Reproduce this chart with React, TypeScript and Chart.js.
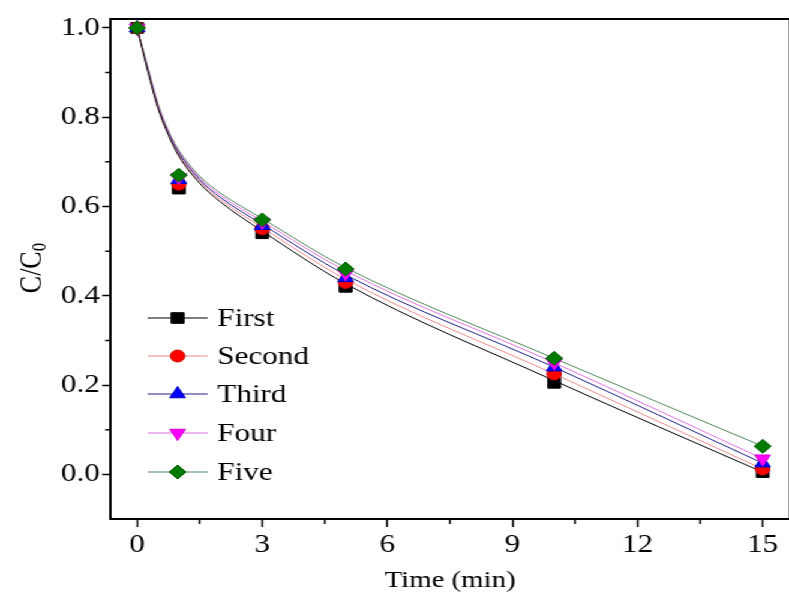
import React, { useEffect, useRef } from 'react';
import { Chart, registerables } from 'chart.js';

Chart.register(...registerables);

// The reference figure is horizontally stretched (~1.2x); reproduce that with a CSS scaleX.
const STRETCH = 1.2;
const CANVAS_W = 667;
const CANVAS_H = 600;
const FONT = "'Liberation Serif', 'Times New Roman', serif";

const seriesNames = ['First', 'Second', 'Third', 'Four', 'Five'];

const timePoints = [0, 1, 3, 5, 10, 15];
const firstPoints = [1.0, 0.64, 0.54, 0.42, 0.205, 0.005];
const secondPoints = [1.0, 0.65, 0.55, 0.43, 0.225, 0.012];
const thirdPoints = [1.0, 0.66, 0.557, 0.44, 0.24, 0.025];
const fourPoints = [1.0, 0.665, 0.565, 0.45, 0.25, 0.035];
const fivePoints = [1.0, 0.67, 0.57, 0.46, 0.26, 0.063];

const fitTimes = [0, 0.25, 0.5, 0.75, 1, 1.5, 2, 3, 5, 10, 15];
const firstFit = [1.0, 0.905, 0.82, 0.76, 0.713, 0.652, 0.61, 0.545, 0.427, 0.21, 0.005];
const secondFit = [1.0, 0.907, 0.822, 0.762, 0.716, 0.656, 0.615, 0.553, 0.437, 0.225, 0.012];
const thirdFit = [1.0, 0.91, 0.825, 0.765, 0.72, 0.66, 0.62, 0.56, 0.447, 0.24, 0.025];
const fourFit = [1.0, 0.912, 0.828, 0.768, 0.723, 0.664, 0.625, 0.567, 0.456, 0.25, 0.035];
const fiveFit = [1.0, 0.914, 0.83, 0.77, 0.726, 0.668, 0.63, 0.573, 0.463, 0.26, 0.063];

const xTicks = [0, 3, 6, 9, 12, 15];
const yTicks = [0, 0.2, 0.4, 0.6, 0.8, 1.0];
const xMinorTicks = [1.5, 4.5, 7.5, 10.5, 13.5];
const yMinorTicks = [0.1, 0.3, 0.5, 0.7, 0.9];

const allPoints = [firstPoints, secondPoints, thirdPoints, fourPoints, fivePoints];
const allFits = [firstFit, secondFit, thirdFit, fourFit, fiveFit];

const markerColors = ['#000000', '#ff0000', '#0000ff', '#ff00ff', '#007a00'];
const markerBorders = ['#000000', '#d00000', '#0000c0', '#d000d0', '#005a00'];
const lineColors = ['#000000', '#f08a8a', '#20208a', '#e070e0', '#4f8a5a'];
const pointStyles = ['rect', 'circle', 'triangle', 'triangle', 'rectRot'];
const pointRotations = [0, 0, 0, 180, 0];
const pointRadii = [7.5, 6, 7.5, 7.5, 7];

function drawMarker(ctx: CanvasRenderingContext2D, i: number, x: number, y: number) {
  const r = pointRadii[i];
  ctx.save();
  ctx.fillStyle = markerColors[i];
  ctx.strokeStyle = markerBorders[i];
  ctx.lineWidth = 1;
  ctx.beginPath();
  const style = pointStyles[i];
  if (style === 'rect') {
    const s = Math.SQRT1_2 * r;
    ctx.rect(x - s, y - s, 2 * s, 2 * s);
  } else if (style === 'circle') {
    ctx.arc(x, y, r, 0, Math.PI * 2);
  } else if (style === 'triangle') {
    const rot = (pointRotations[i] * Math.PI) / 180;
    for (let k = 0; k < 3; k++) {
      const a = rot + (k * 2 * Math.PI) / 3;
      const px = x + Math.sin(a) * r;
      const py = y - Math.cos(a) * r;
      if (k === 0) ctx.moveTo(px, py);
      else ctx.lineTo(px, py);
    }
    ctx.closePath();
  } else {
    ctx.moveTo(x, y - r);
    ctx.lineTo(x + r, y);
    ctx.lineTo(x, y + r);
    ctx.lineTo(x - r, y);
    ctx.closePath();
  }
  ctx.fill();
  ctx.stroke();
  ctx.restore();
}

export default function App() {
  const canvasRef = useRef<HTMLCanvasElement | null>(null);

  useEffect(() => {
    document.documentElement.style.overflow = 'hidden';
    document.body.style.overflow = 'hidden';
    const canvas = canvasRef.current;
    if (!canvas) return;

    const fitDatasets = allFits.map((fit, i) => ({
      label: seriesNames[i] + ' fit',
      data: fitTimes.map((t, k) => ({ x: t, y: fit[k] })),
      showLine: true,
      borderColor: lineColors[i],
      borderWidth: 1,
      pointRadius: 0,
      cubicInterpolationMode: 'monotone' as const,
      order: 20 + i,
    }));

    const pointDatasets = allPoints.map((vals, i) => ({
      label: seriesNames[i],
      data: timePoints.map((t, k) => ({ x: t, y: vals[k] })),
      showLine: false,
      pointStyle: pointStyles[i] as any,
      pointRotation: pointRotations[i],
      pointRadius: pointRadii[i],
      backgroundColor: markerColors[i],
      borderColor: markerBorders[i],
      borderWidth: 1,
      order: 10 - i,
    }));

    const framePlugin = {
      id: 'frameAndExtras',
      afterDraw(chart: any) {
        const { ctx, chartArea, scales } = chart;
        const xs = scales.x;
        const ys = scales.y;
        ctx.save();
        ctx.strokeStyle = '#000';
        ctx.lineWidth = 2;
        ctx.beginPath();
        ctx.moveTo(chartArea.left, chartArea.top);
        ctx.lineTo(chartArea.right, chartArea.top);
        ctx.lineTo(chartArea.right, chartArea.bottom);
        ctx.stroke();
        // minor ticks
        ctx.lineWidth = 1.5;
        ctx.beginPath();
        xMinorTicks.forEach((v) => {
          const px = xs.getPixelForValue(v);
          ctx.moveTo(px, chartArea.bottom);
          ctx.lineTo(px, chartArea.bottom + 5);
        });
        yMinorTicks.forEach((v) => {
          const py = ys.getPixelForValue(v);
          ctx.moveTo(chartArea.left, py);
          ctx.lineTo(chartArea.left - 4, py);
        });
        ctx.stroke();
        // y-axis title with subscript
        ctx.translate(25, 268);
        ctx.rotate(-Math.PI / 2);
        ctx.fillStyle = '#000';
        ctx.textBaseline = 'alphabetic';
        ctx.font = `26px ${FONT}`;
        const main = 'C/C';
        const w1 = ctx.measureText(main).width;
        ctx.font = `17px ${FONT}`;
        const w2 = ctx.measureText('0').width;
        const start = -(w1 + w2) / 2;
        ctx.font = `26px ${FONT}`;
        ctx.fillText(main, start, 9);
        ctx.font = `17px ${FONT}`;
        ctx.fillText('0', start + w1, 13);
        ctx.restore();

        // legend
        const rows = [318, 356, 394, 433, 472];
        ctx.save();
        rows.forEach((ry, i) => {
          ctx.strokeStyle = lineColors[i];
          ctx.lineWidth = 1.2;
          ctx.beginPath();
          ctx.moveTo(123, ry);
          ctx.lineTo(173, ry);
          ctx.stroke();
          drawMarker(ctx, i, 148, ry);
          ctx.fillStyle = '#000';
          ctx.font = `26px ${FONT}`;
          ctx.textBaseline = 'middle';
          ctx.textAlign = 'left';
          ctx.fillText(seriesNames[i], 181, ry + 1);
        });
        ctx.restore();
      },
    };

    const chart = new Chart(canvas, {
      type: 'scatter',
      data: { datasets: [...pointDatasets, ...fitDatasets] as any },
      options: {
        animation: false,
        responsive: false,
        maintainAspectRatio: false,
        layout: { padding: { top: 19, right: 4.5, left: 0, bottom: 0 } },
        plugins: {
          legend: { display: false },
          tooltip: { enabled: false },
        },
        scales: {
          x: {
            type: 'linear',
            min: -0.65,
            max: 15.66,
            afterBuildTicks: (scale: any) => {
              scale.ticks = xTicks.map((v) => ({ value: v }));
            },
            afterFit: (scale: any) => {
              scale.height = 81;
            },
            ticks: {
              color: '#000',
              font: { family: FONT, size: 26 },
              padding: 3,
              maxRotation: 0,
              autoSkip: false,
              callback: (v: any) => String(v),
            },
            grid: {
              drawOnChartArea: false,
              drawTicks: true,
              tickLength: 8,
              tickColor: '#000',
              tickWidth: 1.5,
            },
            border: { color: '#000', width: 2 },
            title: {
              display: true,
              text: 'Time (min)',
              color: '#000',
              font: { family: FONT, size: 24 },
              padding: { top: 0, bottom: 5 },
            },
          },
          y: {
            type: 'linear',
            min: -0.1,
            max: 1.02,
            afterBuildTicks: (scale: any) => {
              scale.ticks = yTicks.map((v) => ({ value: v }));
            },
            afterFit: (scale: any) => {
              scale.width = 110 / STRETCH;
            },
            ticks: {
              color: '#000',
              font: { family: FONT, size: 26 },
              padding: 2,
              autoSkip: false,
              callback: (v: any) => Number(v).toFixed(1),
            },
            grid: {
              drawOnChartArea: false,
              drawTicks: true,
              tickLength: 6.5,
              tickColor: '#000',
              tickWidth: 1.5,
            },
            border: { color: '#000', width: 2 },
          },
        },
      },
      plugins: [framePlugin],
    });

    return () => {
      chart.destroy();
    };
  }, []);

  return (
    <div
      style={{
        position: 'absolute',
        left: 0,
        top: 0,
        width: CANVAS_W,
        height: CANVAS_H,
        transform: `scaleX(${STRETCH})`,
        transformOrigin: '0 0',
        background: '#fff',
      }}
    >
      <canvas ref={canvasRef} width={CANVAS_W} height={CANVAS_H} />
    </div>
  );
}
